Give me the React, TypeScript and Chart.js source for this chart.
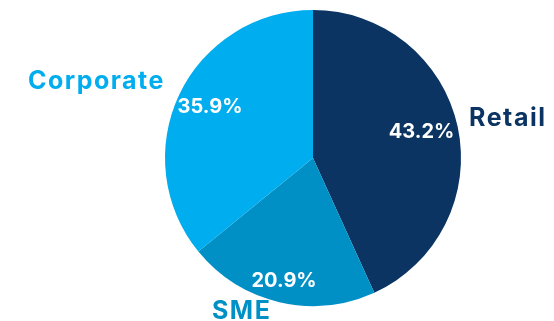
import React, { useEffect, useRef } from "react";
import { Chart, registerables } from "chart.js";

Chart.register(...registerables);

const categories = ["Retail", "SME", "Corporate"];
const values = [43.2, 20.9, 35.9];
const colors = ["#0b3463", "#0090c6", "#00adee"];

const labelPlugin = {
  id: "pieLabels",
  afterDatasetsDraw(chart: any) {
    const ctx = chart.ctx;
    const meta = chart.getDatasetMeta(0);
    const inner = [0.73, 0.83, 0.77];
    const innerDx = [3, -1, 0];
    const innerDy = [-3, 3, -2];
    const outerR = [1.1, 1.09, 1.07];
    const outerDx = [-3, -5, -5];
    const outerDy = [-5, -4, -9];
    meta.data.forEach((arc: any, i: number) => {
      const mid = (arc.startAngle + arc.endAngle) / 2;
      const r = arc.outerRadius;
      const cx = arc.x;
      const cy = arc.y;
      ctx.save();
      ctx.textBaseline = "middle";
      ctx.fillStyle = "#ffffff";
      ctx.font = "bold 20px Inter, 'DejaVu Sans', sans-serif";
      ctx.textAlign = "center";
      const px = cx + Math.cos(mid) * r * inner[i] + innerDx[i];
      const py = cy + Math.sin(mid) * r * inner[i] + innerDy[i];
      ctx.fillText(values[i].toFixed(1) + "%", px, py);
      const ox = cx + Math.cos(mid) * r * outerR[i] + outerDx[i];
      const oy = cy + Math.sin(mid) * r * outerR[i] + outerDy[i];
      ctx.fillStyle = colors[i];
      ctx.font = "bold 25px Inter, 'DejaVu Sans', sans-serif";
      (ctx as any).letterSpacing = "1.5px";
      ctx.textAlign = Math.cos(mid) >= 0 ? "left" : "right";
      ctx.fillText(categories[i], ox, oy);
      ctx.restore();
    });
  },
};

export default function App() {
  const ref = useRef<HTMLCanvasElement>(null);
  useEffect(() => {
    const chart = new Chart(ref.current!, {
      type: "pie",
      data: {
        labels: categories,
        datasets: [
          {
            data: values,
            backgroundColor: colors,
            borderWidth: 0,
          },
        ],
      },
      options: {
        responsive: false,
        animation: false,
        layout: { padding: { top: 10, bottom: 15, left: 165, right: 93 } },
        plugins: {
          legend: { display: false },
          tooltip: { enabled: false },
        },
      },
      plugins: [labelPlugin],
    });
    return () => chart.destroy();
  }, []);
  return (
    <div style={{ position: "fixed", left: 0, top: 0, width: 554, height: 321, background: "#fff" }}>
      <canvas ref={ref} width={554} height={321} style={{ width: 554, height: 321 }} />
    </div>
  );
}
